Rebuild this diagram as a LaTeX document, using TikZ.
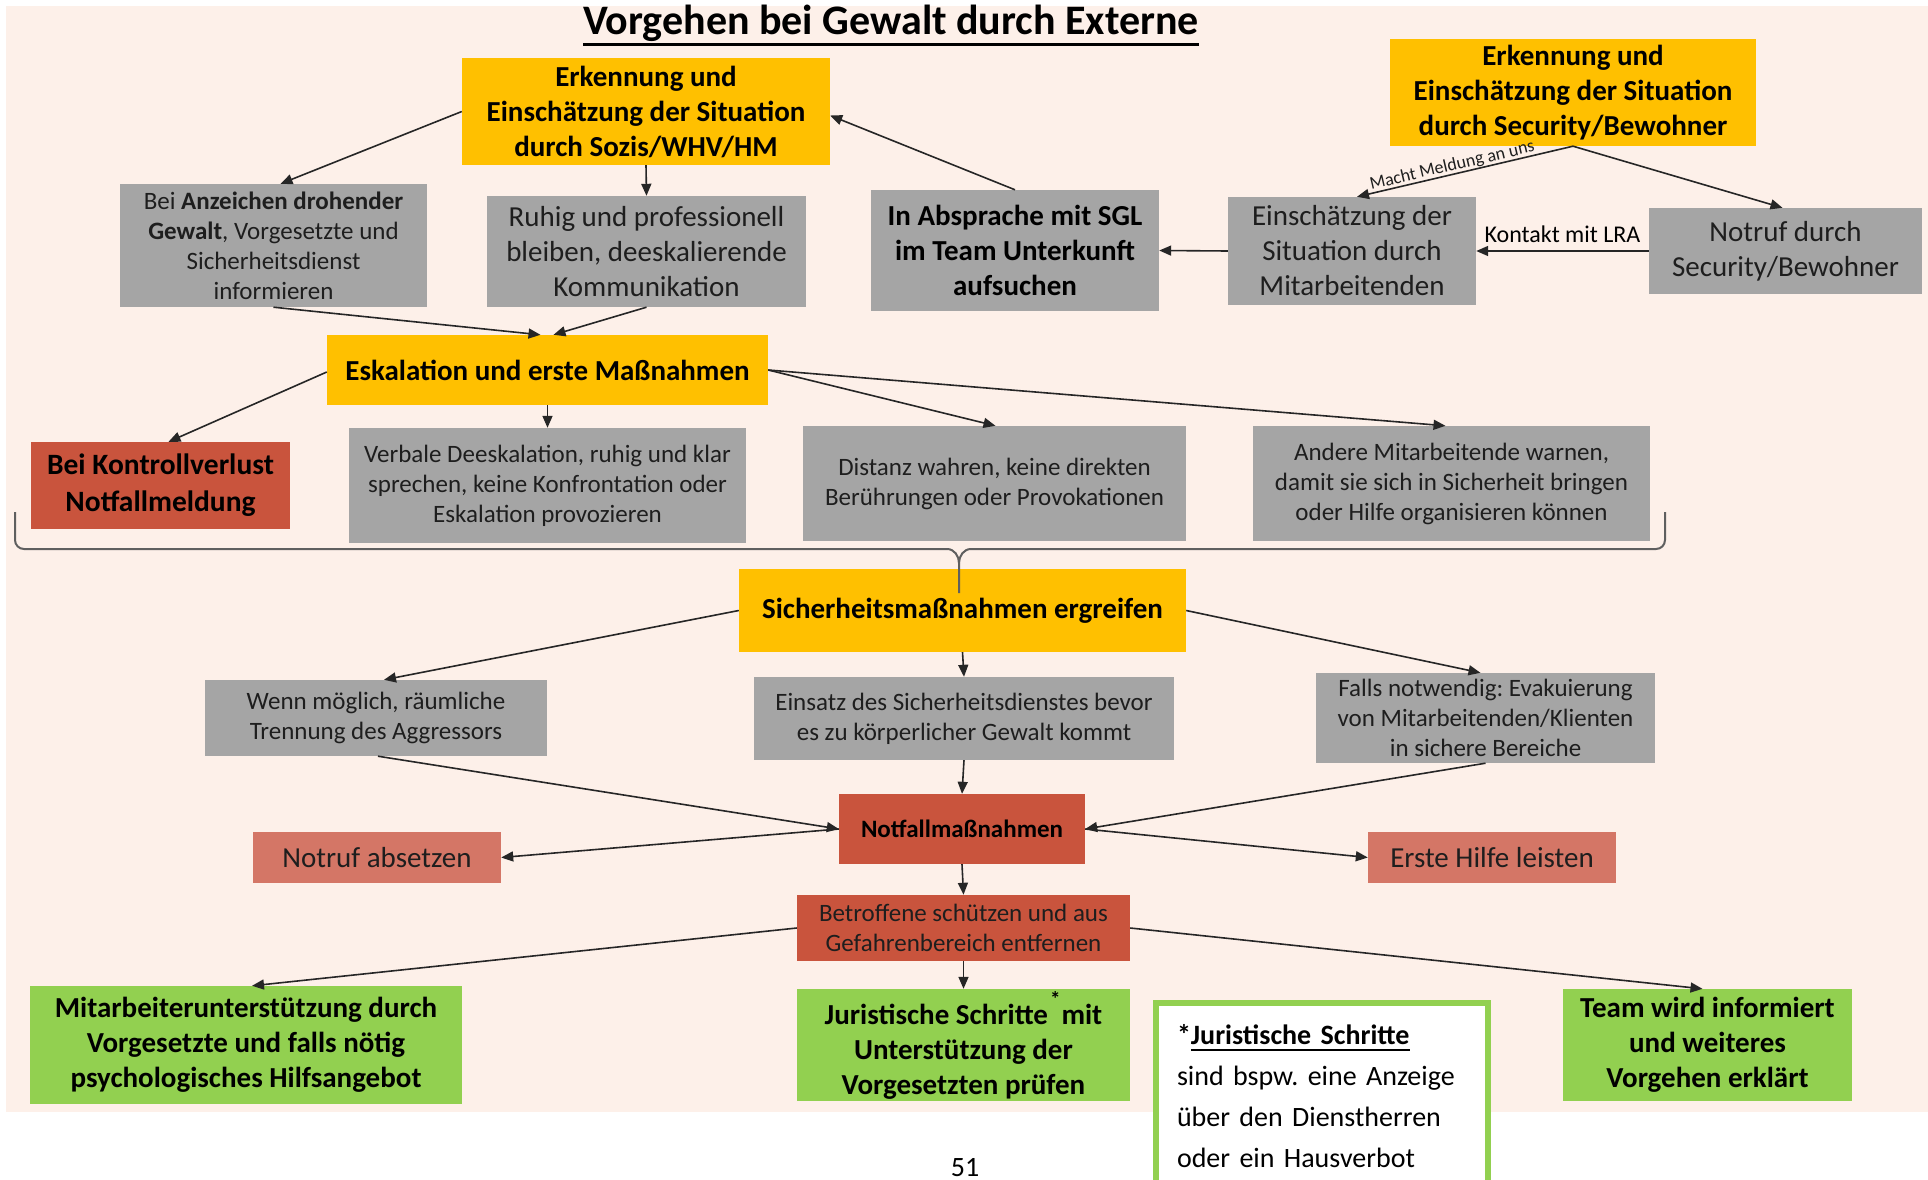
\documentclass[tikz,border=0pt]{standalone}
\usepackage{fontspec}
\setmainfont{Carlito}
\usetikzlibrary{arrows.meta,calc}

\definecolor{bgc}{RGB}{253,240,233}
\definecolor{ylw}{RGB}{255,192,0}
\definecolor{gry}{RGB}{165,165,165}
\definecolor{rd}{RGB}{201,84,61}
\definecolor{slm}{RGB}{212,118,102}
\definecolor{grn}{RGB}{146,208,80}
\definecolor{gtxt}{RGB}{30,30,30}
\definecolor{brcol}{RGB}{95,95,95}

\newcommand\fs[2]{\fontsize{#1}{#2}\selectfont}
\newcommand\ulne[1]{\setbox0=\hbox{#1}\rlap{\rule[-0.26em]{\wd0}{0.075em}}\box0}

\tikzset{
  dim/.style 2 args={minimum width=#1, minimum height=#2},
  basebox/.style={rectangle, inner sep=0pt, align=center},
  yb/.style={basebox, fill=ylw, text=black, font=\bfseries\fs{29}{35}},
  gb/.style={basebox, fill=gry, text=gtxt, font=\fs{25}{30}},
  gbl/.style={basebox, fill=gry, text=gtxt, font=\fs{29}{35}},
  rb/.style={basebox, fill=rd, text=black, font=\bfseries\fs{29.5}{37}},
  sb/.style={basebox, fill=slm, text=gtxt, font=\fs{29}{33}},
  grb/.style={basebox, fill=grn, text=black, font=\bfseries\fs{29}{35}},
  arr/.style={draw=black!85, line width=1.6pt, -{Triangle[length=12pt,width=10pt]}},
  brc/.style={draw=brcol, line width=2pt},
}

\begin{document}
\frenchspacing
\begin{tikzpicture}[x=1pt,y=-1pt]
\useasboundingbox (0,0) rectangle (1928,1180);
\fill[bgc] (6,6) rectangle (1928,1112);

% title
\node[font=\bfseries\fs{42}{46}, anchor=base, inner sep=0pt] (title) at (891,35) {\ulne{Vorgehen bei Gewalt durch Externe}};

% row 1
\node[yb, dim={368pt}{107pt}] (A) at (646,111.5) {Erkennung und\\Einschätzung der Situation\\durch Sozis/WHV/HM};
\node[yb, dim={366pt}{107pt}] (B) at (1573,92.5) {Erkennung und\\Einschätzung der Situation\\durch Security/Bewohner};

\node[gb, dim={307pt}{123pt}] (C) at (273.5,245.5) {Bei \textbf{Anzeichen drohender}\\\textbf{Gewalt}, Vorgesetzte und\\Sicherheitsdienst\\informieren};
\node[gbl, dim={319pt}{111pt}] (D) at (646.5,251.5) {Ruhig und professionell\\bleiben, deeskalierende\\Kommunikation};
\node[gbl, text=black, font=\bfseries\fs{29}{35}, dim={288pt}{121pt}] (E) at (1015,250.5) {In Absprache mit SGL\\im Team Unterkunft\\aufsuchen};
\node[gbl, dim={248pt}{108pt}] (F) at (1352,251) {Einschätzung der\\Situation durch\\Mitarbeitenden};
\node[gbl, dim={273pt}{86pt}] (G) at (1785.5,251) {Notruf durch\\Security/Bewohner};

% row 2
\node[yb, dim={441pt}{70pt}] (H) at (547.5,370) {Eskalation und erste Maßnahmen};
\node[rb, dim={259pt}{87pt}] (I) at (160.5,485.5) {Bei Kontrollverlust\\Notfallmeldung};
\node[gb, dim={397pt}{115pt}] (J) at (547.5,485.5) {Verbale Deeskalation, ruhig und klar\\sprechen, keine Konfrontation oder\\Eskalation provozieren};
\node[gb, dim={383pt}{115pt}] (K) at (994.5,483.5) {Distanz wahren, keine direkten\\Berührungen oder Provokationen};
\node[gb, dim={397pt}{115pt}] (L) at (1451.5,483.5) {Andere Mitarbeitende warnen,\\damit sie sich in Sicherheit bringen\\oder Hilfe organisieren können};

% row 3
\node[yb, dim={447pt}{83pt}] (M) at (962.5,610.5) {Sicherheitsmaßnahmen ergreifen};
\node[gb, dim={342pt}{76pt}] (N) at (376,718) {Wenn möglich, räumliche\\Trennung des Aggressors};
\node[gb, dim={420pt}{83pt}] (O) at (964,718.5) {Einsatz des Sicherheitsdienstes bevor\\es zu körperlicher Gewalt kommt};
\node[gb, dim={339pt}{90pt}] (P) at (1485.5,718) {Falls notwendig: Evakuierung\\von Mitarbeitenden/Klienten\\in sichere Bereiche};

% row 4
\node[rb, font=\bfseries\fs{25}{30}, dim={246pt}{70pt}] (Q) at (962,829) {Notfallmaßnahmen};
\node[sb, dim={248pt}{51pt}] (R) at (377,857.5) {Notruf absetzen};
\node[sb, dim={248pt}{51pt}] (S) at (1492,857.5) {Erste Hilfe leisten};
\node[rb, text=gtxt, font=\fs{25}{30}, dim={333pt}{66pt}] (T) at (963.5,928) {Betroffene schützen und aus\\Gefahrenbereich entfernen};

% row 5
\node[grb, dim={432pt}{118pt}] (U) at (246,1045) {Mitarbeiterunterstützung durch\\Vorgesetzte und falls nötig\\psychologisches Hilfsangebot};
\node[grb, dim={333pt}{112pt}] (V) at (963.5,1045) {Juristische Schritte\kern2pt\raisebox{0.62em}{\fs{21}{21}*}\kern1pt mit\\Unterstützung der\\Vorgesetzten prüfen};
\node[grb, dim={289pt}{112pt}] (X) at (1707.5,1045) {Team wird informiert\\und weiteres\\Vorgehen erklärt};

% note
\node[rectangle, draw=grn, line width=6pt, fill=white, anchor=north west, inner xsep=21pt, inner ysep=21pt,
      text width=290pt, align=left, font=\fs{28}{41}, text=black] (W) at (1153,1000)
  {\textbf{*\ulne{Juristische Schritte}}\\sind bspw. eine Anzeige\\über den Dienstherren\\oder ein Hausverbot};

% page number
\node[font=\fs{28}{30}, anchor=base, inner sep=0pt] (pg) at (965,1176) {51};

% arrows top
\draw[arr] (A.west) -- ([xshift=7pt]C.north);
\draw[arr] (A.south) -- (D.north);
\draw[arr] (E.north) -- ([yshift=-4pt]A.east);
\draw[arr] (F.west) -- (E.east);
\draw[arr] (G.west) -- (F.east);
\path (F.east) -- (G.west) node[midway, above=8pt, inner sep=0pt, font=\fs{24}{26}, text=black] (lra) {Kontakt mit LRA};
\draw[arr] (B.south) -- ([xshift=5pt]F.north);
\path ([xshift=5pt]F.north) -- (B.south) node[pos=0.45, sloped, above=0.5pt, inner sep=0pt, font=\fs{18}{20}, text=gtxt] (mel) {Macht Meldung an uns};
\draw[arr] (B.south) -- ([xshift=-3pt]G.north);

% into H
\draw[arr] (C.south) -- ([xshift=-7pt]H.north);
\draw[arr] (D.south) -- ([xshift=6pt]H.north);
% from H
\draw[arr] ([yshift=-2pt]H.west) -- ([xshift=8pt]I.north);
\draw[arr] (H.south) -- (J.north);
\draw[arr] (H.east) -- ([xshift=1pt]K.north);
\draw[arr] (H.east) -- ([xshift=-6pt]L.north);

% from M
\draw[arr] (M.west) -- ([xshift=8pt]N.north);
\draw[arr] (M.south) -- (O.north);
\draw[arr] (M.east) -- ([xshift=-5pt]P.north);
% into Q
\draw[arr] ([xshift=2pt]N.south) -- (Q.west);
\draw[arr] (O.south) -- (Q.north);
\draw[arr] (P.south) -- (Q.east);
% from Q
\draw[arr] (Q.west) -- (R.east);
\draw[arr] (Q.east) -- (S.west);
\draw[arr] (Q.south) -- (T.north);
% from T
\draw[arr] (T.west) -- ([xshift=6pt]U.north);
\draw[arr] (T.south) -- (V.north);
\draw[arr] (T.east) -- ([xshift=-5pt]X.north);

% brace
\draw[brc] (15,512) -- (15,540) to[out=-90,in=180] (24,549) -- (947,549) to[out=0,in=90] (959,563) -- (959,593);
\draw[brc] (1665,512) -- (1665,540) to[out=-90,in=0] (1656,549) -- (971,549) to[out=180,in=90] (959,563);
\end{tikzpicture}
\end{document}
